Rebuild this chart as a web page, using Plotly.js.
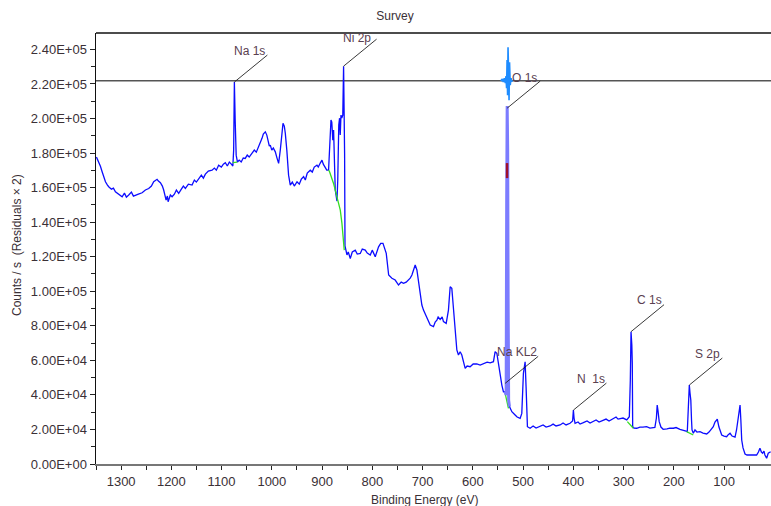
<!DOCTYPE html>
<html><head><meta charset="utf-8">
<script src="https://cdn.plot.ly/plotly-3.0.1.min.js"></script>
<style>html,body{margin:0;padding:0;background:#fff}#chart{width:771px;height:506px}</style>
</head><body><div id="chart"></div>
<script>
// Survey spectrum: binding energy (eV) and counts/s
const be = [1349.1,1344.6,1341.2,1337.8,1335.2,1331.2,1327.2,1324.7,1319.3,1315.3,1311.3,1305.4,1298.0,1293.4,1289.5,1284.9,1279.5,1275.5,1271.6,1265.6,1258.2,1251.7,1245.1,1239.7,1235.2,1228.4,1225.8,1221.8,1217.9,1215.3,1210.5,1207.9,1206.5,1202.0,1198.6,1194.0,1190.0,1185.4,1180.1,1176.1,1172.1,1166.1,1158.8,1154.2,1150.2,1145.7,1140.3,1136.3,1132.3,1126.4,1119.0,1114.4,1110.5,1105.9,1100.5,1096.5,1092.6,1088.6,1084.6,1080.6,1077.6,1076.0,1074.6,1073.0,1071.0,1068.4,1065.0,1061.0,1056.9,1053.0,1049.0,1045.1,1039.5,1034.9,1030.9,1026.3,1023.0,1019.6,1017.0,1013.0,1010.0,1007.0,1005.0,1003.1,1000.1,997.1,993.1,989.7,986.5,983.2,980.2,977.8,975.2,973.2,970.2,966.7,963.3,959.3,955.3,949.9,945.4,941.4,936.8,933.4,929.5,923.5,919.5,915.6,910.2,907.6,903.6,900.2,897.6,893.6,890.7,887.1,884.7,882.3,880.7,878.7,877.1,875.8,873.8,870.4,868.8,866.8,865.2,863.9,862.4,860.8,858.8,857.2,855.8,855.2,854.4,850.5,847.9,843.9,839.9,834.0,830.0,824.0,820.0,814.1,810.1,804.1,800.2,794.2,787.6,783.3,778.8,776.3,772.3,767.5,761.0,754.5,750.5,747.9,742.5,737.9,732.6,728.0,724.6,721.2,718.1,714.7,711.3,708.1,704.7,701.4,698.2,691.4,687.8,684.8,678.3,674.9,671.5,669.0,665.0,661.0,658.4,653.0,648.5,646.1,645.1,641.8,638.5,635.1,631.8,628.6,625.2,621.9,618.6,615.2,611.3,605.3,599.3,592.0,585.4,578.8,571.5,565.5,558.9,555.6,552.2,549.0,545.6,542.2,539.0,535.6,533.6,532.6,531.6,530.6,529.7,528.7,527.0,522.3,515.8,511.8,505.8,502.5,499.3,495.9,494.0,491.3,486.0,480.0,474.1,466.1,460.1,454.1,446.2,440.2,434.3,426.3,420.4,414.4,406.5,401.4,399.8,398.5,396.5,390.5,386.5,380.0,372.6,366.6,360.1,354.7,348.7,340.2,334.8,328.8,320.3,314.9,310.9,307.0,301.0,293.6,288.5,286.5,285.1,283.5,282.6,281.8,279.2,273.7,267.4,261.4,254.1,247.5,241.5,237.6,234.6,233.0,231.6,229.0,225.6,221.1,213.5,207.8,200.7,195.5,187.7,181.5,175.6,173.1,170.7,169.1,167.7,166.1,164.7,163.7,161.1,157.8,153.8,147.8,141.8,134.5,129.9,125.9,121.4,118.0,113.4,110.1,104.6,100.0,94.7,92.1,88.0,84.0,78.1,75.1,71.5,70.2,68.1,66.5,64.8,62.2,58.2,54.2,48.2,42.3,35.1,31.5,28.5,25.6,23.1,20.5,18.6,15.2,12.0,7.2];
const counts = [177700,174900,172400,169200,166700,163400,161500,160500,159100,159700,157600,156200,154700,156800,154500,155700,157400,155100,155700,156200,157000,158600,159500,160900,163400,164800,163800,162800,160900,158600,152800,155100,151800,155700,154700,156200,158600,156700,159100,160900,159500,162000,161500,164400,163200,165300,167200,165500,167800,169600,170100,171300,170100,173000,171900,173600,174400,172500,174800,173600,172500,181700,221100,199100,178800,174800,175900,174800,177100,176900,178800,177700,179800,181700,180500,183600,186300,188500,191000,192300,190400,186300,184000,184600,181700,182900,180700,177100,174000,181700,193300,197200,195600,191400,181700,167200,161500,163200,160900,163400,162000,164900,166300,164400,168400,170100,169000,171900,173000,171900,174200,175900,173600,172000,170100,170100,181700,199100,197900,187500,193300,181700,158600,152200,164400,196200,200200,190400,202000,200200,202000,230300,204900,180000,126200,121000,122700,119000,122700,123800,121500,121900,124400,123800,122100,121000,123800,120000,125700,127700,127700,125600,121900,109400,107500,106500,104200,103600,105300,104600,105300,106500,107600,109400,112300,115200,112300,106500,98800,92000,89100,84300,82200,80400,79500,82200,83300,85100,83700,85100,82400,81400,89100,99500,102600,101700,91000,77500,66000,63100,65000,63100,58300,55400,56700,56300,57900,57900,57300,57900,59000,58600,59200,65000,64100,58300,50500,45700,41800,41700,39900,152800,207200,181700,94900,37000,33200,30300,28400,27200,26400,29300,52500,59200,44700,21600,20700,22000,20800,21600,22600,21400,22000,23100,22000,22600,23700,22600,23600,24900,31200,26600,23500,24300,23100,23900,24900,23700,24500,25500,24300,25500,26000,24900,26400,27200,26000,26400,26600,25500,27400,48600,76600,68900,58300,21600,20800,20700,21400,21400,21600,20800,21200,21200,26600,34100,31200,24500,21400,20100,20300,20800,20700,21100,20100,19700,19100,18700,37000,45700,41100,37000,25500,19700,17800,19700,18500,18700,17900,17400,18500,20300,21600,24300,25900,21400,16800,16200,15800,16800,17800,16200,15500,19700,27400,30100,34100,25500,13900,9300,5800,5200,5200,4900,5200,6900,9100,6900,6200,7500,5200,3300,6200,7100];

// Fit envelope over O 1s (drawn lighter)
const envBE = [535.6,533.6,532.6,531.6,530.6,529.7,528.7,527.0];
const envCounts = [41700,39900,152800,207200,181700,94900,37000,33200];

// O 1s component (maroon, visible part)
const compBE = [531.85,531.85];
const compCounts = [165500,174200];

// Backgrounds (green)
const bgNaBE = [1078.0,1073.0,1069.0];
const bgNaCounts = [174500,174600,174800];
const bgNiBE = [887.1,885.1,877.2,870.4,863.8,860.5,857.3,855.9];
const bgNiCounts = [170100,169200,162400,154700,147000,139300,129600,123800];
const bgOBE = [535.6,532.0,529.1];
const bgOCounts = [40900,36000,32200];
const bgCBE = [292.4,286.0,280.5];
const bgCCounts = [24500,22500,20700];
const bgSBE = [174.3,168.0,161.2];
const bgSCounts = [18700,17800,16800];

// Residuals (x2) around the residual zero line
const residualZero = 221800;
const resBE = [544.4,541.4,539.4,537.4,535.4,534.0,532.8,531.8,530.8,529.9,528.9,527.9,526.9,525.5,523.9,522.4,520.5];
const resCounts = [221800,222800,221100,223400,220500,224500,217600,233800,213500,241300,228000,210600,232600,219300,223400,221600,221800];

// Peak labels
const peakLabels = ['Na 1s','Ni 2p','O 1s','Na KL2','N  1s','C 1s','S 2p'];
const peakBE = [1074.6,857.2,531.6,535.6,399.8,285.1,169.1];
const peakCounts = [221100,230300,206000,46700,31200,76600,45700];

// Axis ticks
const xTickVals = [1300,1200,1100,1000,900,800,700,600,500,400,300,200,100];
const xTickText = ['1300','1200','1100','1000','900','800','700','600','500','400','300','200','100'];
const yTickVals = [0,20000,40000,60000,80000,100000,120000,140000,160000,180000,200000,220000,240000];
const yTickText = ['0.00E+00','2.00E+04','4.00E+04','6.00E+04','8.00E+04','1.00E+05','1.20E+05','1.40E+05','1.60E+05','1.80E+05','2.00E+05','2.20E+05','2.40E+05'];

const green = '#33dd22';
const traces = [
  {x: be, y: counts, type: 'scatter', mode: 'lines', line: {color: '#0c0cff', width: 1.3}},
  {x: bgNaBE, y: bgNaCounts, mode: 'lines', line: {color: green, width: 1.3}},
  {x: bgNiBE, y: bgNiCounts, mode: 'lines', line: {color: green, width: 1.3}},
  {x: bgOBE, y: bgOCounts, mode: 'lines', line: {color: green, width: 1.3}},
  {x: bgCBE, y: bgCCounts, mode: 'lines', line: {color: green, width: 1.3}},
  {x: bgSBE, y: bgSCounts, mode: 'lines', line: {color: green, width: 1.3}},
  {x: envBE, y: envCounts, mode: 'lines', line: {color: '#7c7cff', width: 3}},
  {x: compBE, y: compCounts, mode: 'lines', line: {color: '#a0102a', width: 2.5}},
  {x: resBE, y: resCounts, mode: 'lines', line: {color: '#1e8cff', width: 1.6}}
];

const txtColor = '#3a3036';
const font = 'Liberation Sans, Arial, sans-serif';
const shapes = [
  {type: 'line', xref: 'paper', x0: 0, x1: 1, yref: 'y', y0: residualZero, y1: residualZero, line: {color: '#555555', width: 1.5}, layer: 'below'}
];
const annotations = [];
const lblDX = [15,13,17,12,18,18,18];
const lblDY = [31,28,30,31,31,32,31];
for (let i = 0; i < peakLabels.length; i++) {
  shapes.push({type: 'line', xref: 'x', yref: 'y', xsizemode: 'pixel', ysizemode: 'pixel',
    xanchor: peakBE[i], yanchor: peakCounts[i], x0: 0, x1: 33, y0: 0, y1: 27,
    line: {color: '#222222', width: 0.9}});
  annotations.push({x: peakBE[i], y: peakCounts[i], xref: 'x', yref: 'y', text: peakLabels[i],
    showarrow: false, xshift: lblDX[i], yshift: lblDY[i], font: {family: font, size: 12, color: '#5a4050'}});
}
annotations.push({xref: 'paper', yref: 'paper', x: (424-96)/675, y: -(500-464)/431, text: 'Binding Energy (eV)',
  showarrow: false, font: {family: font, size: 12, color: txtColor}, xanchor: 'center', yanchor: 'middle'});
annotations.push({xref: 'paper', yref: 'paper', x: (17-96)/675, y: (464-245)/431, text: 'Counts / s  (Residuals × 2)',
  showarrow: false, textangle: -90, font: {family: font, size: 12, color: txtColor}, xanchor: 'center', yanchor: 'middle'});

const layout = {
  width: 771, height: 506,
  margin: {l: 96, r: 0, t: 33, b: 42, pad: 0},
  paper_bgcolor: '#ffffff', plot_bgcolor: '#ffffff',
  showlegend: false, hovermode: false,
  title: {text: 'Survey', x: 395/771, xref: 'container', xanchor: 'center', y: 1 - 16/506, yref: 'container', yanchor: 'middle',
    font: {family: font, size: 12, color: txtColor}},
  xaxis: {range: [1350, 6.5], autorange: false, showgrid: false, zeroline: false,
    showline: true, linecolor: '#777777', linewidth: 2, mirror: false,
    tickmode: 'array', tickvals: xTickVals, ticktext: xTickText,
    ticks: 'outside', ticklen: 4, tickcolor: '#222', tickwidth: 1,
    minor: {tickmode: 'linear', tick0: 0, dtick: 50, ticks: 'outside', ticklen: 4, tickcolor: '#222'},
    tickfont: {family: font, size: 13, color: txtColor}},
  yaxis: {range: [0, 249500], autorange: false, showgrid: false, zeroline: false,
    showline: true, linecolor: '#111111', linewidth: 1.5,
    tickmode: 'array', tickvals: yTickVals, ticktext: yTickText,
    ticks: 'outside', ticklen: 5, tickcolor: '#222', tickwidth: 1,
    minor: {tickmode: 'linear', tick0: 0, dtick: 10000, ticks: 'outside', ticklen: 4, tickcolor: '#222'},
    tickfont: {family: font, size: 13, color: txtColor}},
  shapes: shapes.concat([{type: 'line', xref: 'paper', yref: 'paper', x0: 0, x1: 1, y0: 1, y1: 1, line: {color: '#111111', width: 1.5}}]),
  annotations: annotations
};
Plotly.newPlot('chart', traces, layout, {staticPlot: true, displayModeBar: false});
</script></body></html>
